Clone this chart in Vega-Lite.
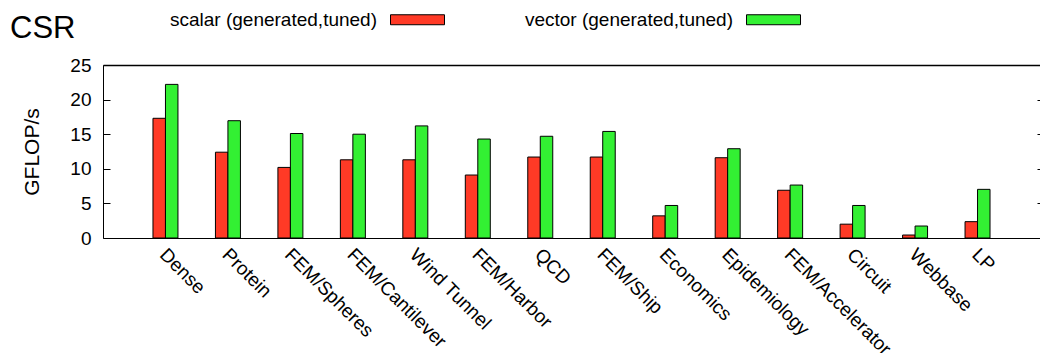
{
  "$schema": "https://vega.github.io/schema/vega-lite/v6.json",
  "autosize": {"type": "none"},
  "padding": {"left": 103, "top": 65, "right": 0, "bottom": 115},
  "width": 937,
  "height": 173,
  "background": "white",
  "config": {
    "font": "Liberation Sans",
    "view": {"stroke": null}
  },
  "title": {
    "text": "CSR",
    "anchor": "start",
    "frame": "group",
    "orient": "top",
    "fontSize": 31,
    "fontWeight": "normal",
    "color": "black",
    "font": "Liberation Sans",
    "baseline": "alphabetic",
    "dx": -93,
    "dy": 32,
    "offset": -45
  },
  "data": {
    "values": [
      {"matrix": "Dense", "series": "scalar (generated,tuned)", "gflops": 17.3},
      {"matrix": "Dense", "series": "vector (generated,tuned)", "gflops": 22.2},
      {"matrix": "Protein", "series": "scalar (generated,tuned)", "gflops": 12.4},
      {"matrix": "Protein", "series": "vector (generated,tuned)", "gflops": 16.95},
      {"matrix": "FEM/Spheres", "series": "scalar (generated,tuned)", "gflops": 10.2},
      {"matrix": "FEM/Spheres", "series": "vector (generated,tuned)", "gflops": 15.1},
      {"matrix": "FEM/Cantilever", "series": "scalar (generated,tuned)", "gflops": 11.3},
      {"matrix": "FEM/Cantilever", "series": "vector (generated,tuned)", "gflops": 15.0},
      {"matrix": "Wind Tunnel", "series": "scalar (generated,tuned)", "gflops": 11.3},
      {"matrix": "Wind Tunnel", "series": "vector (generated,tuned)", "gflops": 16.2},
      {"matrix": "FEM/Harbor", "series": "scalar (generated,tuned)", "gflops": 9.1},
      {"matrix": "FEM/Harbor", "series": "vector (generated,tuned)", "gflops": 14.3},
      {"matrix": "QCD", "series": "scalar (generated,tuned)", "gflops": 11.7},
      {"matrix": "QCD", "series": "vector (generated,tuned)", "gflops": 14.7},
      {"matrix": "FEM/Ship", "series": "scalar (generated,tuned)", "gflops": 11.7},
      {"matrix": "FEM/Ship", "series": "vector (generated,tuned)", "gflops": 15.4},
      {"matrix": "Economics", "series": "scalar (generated,tuned)", "gflops": 3.2},
      {"matrix": "Economics", "series": "vector (generated,tuned)", "gflops": 4.7},
      {"matrix": "Epidemiology", "series": "scalar (generated,tuned)", "gflops": 11.6},
      {"matrix": "Epidemiology", "series": "vector (generated,tuned)", "gflops": 12.9},
      {"matrix": "FEM/Accelerator", "series": "scalar (generated,tuned)", "gflops": 6.9},
      {"matrix": "FEM/Accelerator", "series": "vector (generated,tuned)", "gflops": 7.65},
      {"matrix": "Circuit", "series": "scalar (generated,tuned)", "gflops": 2.0},
      {"matrix": "Circuit", "series": "vector (generated,tuned)", "gflops": 4.7},
      {"matrix": "Webbase", "series": "scalar (generated,tuned)", "gflops": 0.43},
      {"matrix": "Webbase", "series": "vector (generated,tuned)", "gflops": 1.73},
      {"matrix": "LP", "series": "scalar (generated,tuned)", "gflops": 2.36},
      {"matrix": "LP", "series": "vector (generated,tuned)", "gflops": 7.03}
    ]
  },
  "encoding": {
    "x": {
      "field": "matrix",
      "type": "nominal",
      "sort": null,
      "scale": {"paddingInner": 0.6, "paddingOuter": 0.8}
    },
    "xOffset": {
      "field": "series",
      "type": "nominal",
      "scale": {"padding": 0, "domain": ["scalar (generated,tuned)", "vector (generated,tuned)"]}
    },
    "y": {
      "field": "gflops",
      "type": "quantitative",
      "scale": {"domain": [0, 25], "nice": false, "zero": true}
    }
  },
  "layer": [
    {
      "mark": {"type": "bar", "stroke": "black", "strokeWidth": 1},
      "encoding": {
        "x": {
          "field": "matrix",
          "type": "nominal",
          "sort": null,
          "axis": {
            "orient": "bottom",
            "title": null,
            "ticks": false,
            "domain": true,
            "domainColor": "black",
            "domainWidth": 1,
            "labelAngle": 45,
            "labelAlign": "left",
            "labelBaseline": "top",
            "labelPadding": 7,
            "labelOffset": 4,
            "labelFontSize": 19,
            "labelColor": "black",
            "labelFont": "Liberation Sans",
            "labelLimit": 300
          }
        },
        "y": {
          "field": "gflops",
          "type": "quantitative",
          "axis": {
            "orient": "left",
            "title": "GFLOP/s",
            "titleFontSize": 21,
            "titleFontWeight": "normal",
            "titleColor": "black",
            "titleFont": "Liberation Sans",
            "titlePadding": 27,
            "values": [0, 5, 10, 15, 20, 25],
            "grid": false,
            "domain": true,
            "domainColor": "black",
            "domainWidth": 1,
            "ticks": true,
            "tickSize": -7,
            "tickColor": "black",
            "labelPadding": 19,
            "labelFontSize": 19,
            "labelColor": "black",
            "labelFont": "Liberation Sans"
          }
        },
        "color": {
          "field": "series",
          "type": "nominal",
          "scale": {
            "domain": ["scalar (generated,tuned)", "vector (generated,tuned)"],
            "range": ["#ff3a26", "#33f033"]
          },
          "legend": {
            "orient": "none",
            "legendX": 287,
            "legendY": -73,
            "direction": "horizontal",
            "title": null,
            "symbolType": "M-1,-0.185L1,-0.185L1,0.185L-1,0.185Z",
            "symbolSize": 2916,
            "symbolStrokeColor": "black",
            "symbolStrokeWidth": 1,
            "symbolOpacity": 1,
            "labelAlign": "right",
            "labelOffset": -68,
            "labelFontSize": 19,
            "labelColor": "black",
            "labelFont": "Liberation Sans",
            "labelLimit": 400,
            "columnPadding": 77
          }
        }
      }
    },
    {
      "mark": {"type": "bar", "opacity": 0},
      "encoding": {
        "x": {
          "field": "matrix",
          "type": "nominal",
          "sort": null,
          "axis": {
            "orient": "top",
            "title": null,
            "labels": false,
            "ticks": false,
            "domain": true,
            "domainColor": "black",
            "domainWidth": 1.5
          }
        },
        "y": {
          "field": "gflops",
          "type": "quantitative",
          "axis": {
            "orient": "right",
            "title": null,
            "labels": false,
            "values": [0, 5, 10, 15, 20, 25],
            "grid": false,
            "domain": false,
            "ticks": true,
            "tickSize": -3,
            "tickColor": "black"
          }
        }
      }
    }
  ],
  "resolve": {"axis": {"x": "independent", "y": "independent"}}
}
